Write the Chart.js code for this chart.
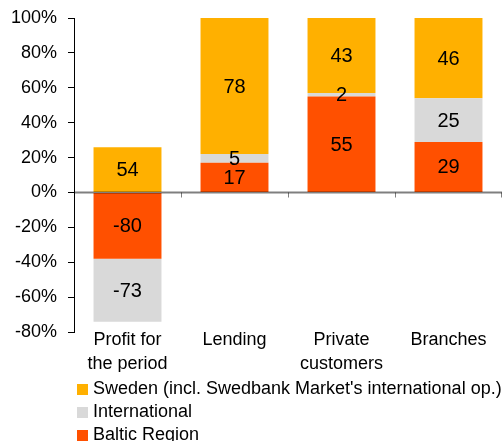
<!DOCTYPE html>
<html>
<head>
<meta charset="utf-8">
<script src="https://cdn.jsdelivr.net/npm/chart.js@4.4.0/dist/chart.umd.min.js"></script>
<style>
  body { margin: 0; background: #fff; }
  #wrap { width: 502px; height: 441px; }
</style>
</head>
<body>
<div id="wrap"><canvas id="grafica" width="502" height="441"></canvas></div>
<script>
// Datos
const categorias = [["Profit for", "the period"], "Lending", ["Private", "customers"], "Branches"];
const yTicks = [-80, -60, -40, -20, 0, 20, 40, 60, 80, 100];

// altura de cada tramo (%)
const baltic = [-38, 17, 55, 29];
const international = [-36, 5, 2, 25];
const sweden = [26, 78, 43, 46];

// números que se muestran dentro de cada tramo
const balticLabels = [-80, 17, 55, 29];
const internationalLabels = [-73, 5, 2, 25];
const swedenLabels = [54, 78, 43, 46];

const fuente = "'Liberation Sans', Arial, sans-serif";

// Plugin: línea del cero, etiquetas de datos y leyenda
const extras = {
  id: 'extras',
  afterDatasetsDraw(chart) {
    const ctx = chart.ctx;
    const area = chart.chartArea;
    const x = chart.scales.x;
    const y0 = chart.scales.y.getPixelForValue(0);

    ctx.save();
    ctx.strokeStyle = 'rgba(0,0,0,0.5)';
    ctx.lineWidth = 2;
    ctx.beginPath();
    ctx.moveTo(area.left, y0);
    ctx.lineTo(area.right, y0);
    ctx.stroke();
    // marcas entre categorías
    ctx.lineWidth = 1;
    for (let i = 1; i <= categorias.length; i++) {
      const px = Math.round((x.getPixelForValue(i - 1) + x.getPixelForValue(i)) / 2) + 0.5;
      const bx = i === categorias.length ? area.right - 0.5 : px;
      ctx.beginPath();
      ctx.moveTo(bx, y0);
      ctx.lineTo(bx, y0 + 5);
      ctx.stroke();
    }

    ctx.fillStyle = '#000';
    ctx.font = '20px ' + fuente;
    ctx.textAlign = 'center';
    ctx.textBaseline = 'middle';
    chart.data.datasets.forEach((ds, di) => {
      const meta = chart.getDatasetMeta(di);
      meta.data.forEach((bar, i) => {
        const cy = (bar.y + bar.base) / 2;
        ctx.fillText(String(ds.etiquetas[i]), bar.x, cy + 1);
      });
    });
    ctx.restore();
  },
  afterDraw(chart) {
    const ctx = chart.ctx;
    const items = chart.data.datasets.slice().reverse();
    ctx.save();
    ctx.font = '18px ' + fuente;
    ctx.textBaseline = 'middle';
    ctx.textAlign = 'left';
    items.forEach((ds, i) => {
      const cy = 389 + i * 23;
      ctx.fillStyle = ds.backgroundColor;
      ctx.fillRect(77, cy - 5, 11, 11);
      ctx.fillStyle = '#000';
      ctx.fillText(ds.label, 93, cy);
    });
    ctx.restore();
  }
};

new Chart(document.getElementById('grafica'), {
  type: 'bar',
  data: {
    labels: categorias,
    datasets: [
      { label: 'Baltic Region', data: baltic, etiquetas: balticLabels, backgroundColor: '#FF5000' },
      { label: 'International', data: international, etiquetas: internationalLabels, backgroundColor: '#D9D9D9' },
      { label: "Sweden (incl. Swedbank Market's international op.)", data: sweden, etiquetas: swedenLabels, backgroundColor: '#FFB000' }
    ]
  },
  options: {
    responsive: false,
    animation: false,
    layout: { padding: { top: 18, left: 0, right: 0, bottom: 69 } },
    datasets: { bar: { categoryPercentage: 1, barPercentage: 0.635 } },
    plugins: {
      legend: { display: false },
      tooltip: { enabled: false }
    },
    scales: {
      x: {
        stacked: true,
        grid: { display: false, drawTicks: false },
        border: { display: false },
        ticks: {
          color: '#000',
          font: { family: fuente, size: 18, lineHeight: 1.33 },
          padding: -4,
          maxRotation: 0,
          autoSkip: false
        }
      },
      y: {
        stacked: true,
        min: -80,
        max: 100,
        afterBuildTicks(scale) { scale.ticks = yTicks.map(v => ({ value: v })); },
        afterFit(scale) {
          scale.width = 74;
          scale.paddingTop = 0;
          scale.paddingBottom = 0;
        },
        grid: { drawOnChartArea: false, drawTicks: true, tickLength: 6, color: '#000' },
        border: { display: true, color: '#000', width: 1 },
        ticks: {
          color: '#000',
          font: { family: fuente, size: 18 },
          padding: 11,
          callback: v => v + '%'
        }
      }
    }
  },
  plugins: [extras]
});
</script>
</body>
</html>
